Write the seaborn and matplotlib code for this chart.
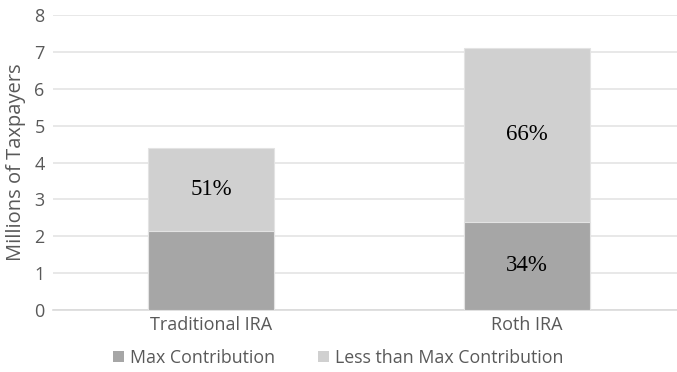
import matplotlib
matplotlib.use("Agg")
import matplotlib.pyplot as plt
import seaborn as sns
import pandas as pd
from matplotlib.patches import Patch

# Data (millions of taxpayers)
accounts = ["Traditional IRA", "Roth IRA"]
max_contribution = [2.15, 2.40]
less_than_max = [2.25, 4.70]
pct_max = ["", "34%"]
pct_less = ["51%", "66%"]

totals = [a + b for a, b in zip(max_contribution, less_than_max)]
df = pd.DataFrame({"account": accounts, "max": max_contribution,
                   "less": less_than_max, "total": totals})

sns.set_theme(style="white")
plt.rcParams["font.family"] = ["Open Sans", "DejaVu Sans"]

dark = "#A6A6A6"
light = "#D0D0D0"
text_grey = "#595959"

fig = plt.figure(figsize=(6.77, 3.72), dpi=100)
ax = fig.add_axes([53 / 677, 1 - 310 / 372, (677 - 53) / 677, (310 - 15) / 372])

# Stacked bars: full height in light grey, lower segment in dark grey
sns.barplot(data=df, x="account", y="total", color=light, width=0.4,
            saturation=1, edgecolor="#E3E3E3", linewidth=0.8, ax=ax, zorder=2)
sns.barplot(data=df, x="account", y="max", color=dark, width=0.4,
            saturation=1, edgecolor="#E3E3E3", linewidth=0.8, ax=ax, zorder=3)

ax.set_ylim(0, 8)
ax.set_xlim(-0.5, 1.475)
ax.set_yticks(range(0, 9))
ax.yaxis.grid(True, color="#E4E4E4", linewidth=1.2, zorder=0)
ax.set_axisbelow(True)
for side in ["top", "right", "left"]:
    ax.spines[side].set_visible(False)
ax.spines["bottom"].set_color("#DADADA")
ax.spines["bottom"].set_linewidth(1.2)
ax.tick_params(axis="both", length=0, colors=text_grey, labelsize=13)
ax.tick_params(axis="y", pad=6)
ax.tick_params(axis="x", pad=4)
ax.set_xlabel("")
ax.set_ylabel("Millions of Taxpayers", color=text_grey, fontsize=14.5, labelpad=6)

# Percentage labels centred in each segment
for i in range(len(accounts)):
    if pct_max[i]:
        ax.text(i, max_contribution[i] / 2, pct_max[i], ha="center", va="center",
                fontsize=16.5, family="Liberation Serif", color="black", zorder=5)
    if pct_less[i]:
        ax.text(i, max_contribution[i] + less_than_max[i] / 2, pct_less[i],
                ha="center", va="center", fontsize=16.5, family="Liberation Serif",
                color="black", zorder=5)

handles = [Patch(facecolor=dark, edgecolor="none"),
           Patch(facecolor=light, edgecolor="none")]
fig.legend(handles, ["Max Contribution", "Less than Max Contribution"],
           loc="center", bbox_to_anchor=(0.5, 1 - 358 / 372), ncol=2,
           frameon=False, fontsize=12.8, labelcolor=text_grey,
           handlelength=0.6, handleheight=0.6, handletextpad=0.35,
           columnspacing=2.4)

fig.savefig("out.png", dpi=100)
